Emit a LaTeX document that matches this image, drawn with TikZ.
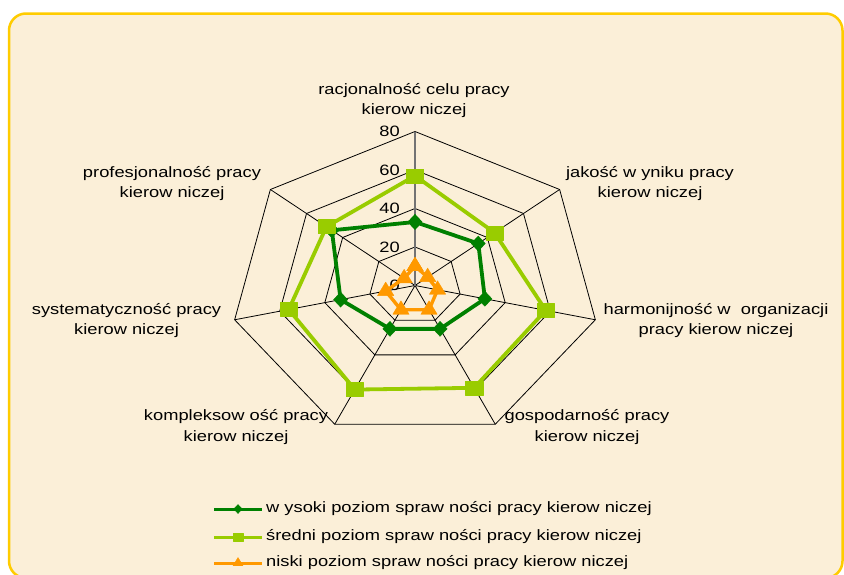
\documentclass[tikz,border=0pt]{standalone}
\usepackage{fontspec}
\setmainfont{Liberation Sans}[FakeStretch=1.22]
\usetikzlibrary{plotmarks}
\definecolor{ciemnozielony}{HTML}{008000}
\definecolor{jasnozielony}{HTML}{99CC00}
\definecolor{pomaranczowy}{HTML}{FF9900}
\definecolor{ramka}{HTML}{FFCC00}
\definecolor{tlo}{HTML}{FBEFD8}
\begin{document}
\begin{tikzpicture}[x=1pt, y=-1pt,
  siatka/.style={black, line width=0.8pt},
  os/.style={black!55, line width=1.4pt},
  opis/.style={align=center, inner sep=0pt, font=\fontsize{15}{20.5}\selectfont},
  liczba/.style={anchor=east, inner sep=0pt, xshift=-15pt, font=\fontsize{15}{18}\selectfont},
  seria/.style={line width=3.8pt, line join=round},
  wysoki/.style={seria, ciemnozielony, mark=diamond*, mark size=7.5pt, mark options={xscale=1.25, line width=0.4pt}},
  sredni/.style={seria, jasnozielony, mark=square*, mark size=7pt, mark options={xscale=1.22, line width=0.4pt}},
  niski/.style={seria, line width=3.4pt, pomaranczowy, mark=triangle*, mark size=9pt, mark options={xscale=1.05, line width=0.4pt}}]
% tlo i ramka
\fill[white] (0,0) rectangle (844,574);
\useasboundingbox (0,0) rectangle (844,574);
\draw[ramka, line width=2.5pt, fill=tlo, rounded corners=17pt] (9,13.5) rectangle (842.5,578);

% wykres radarowy (1 jednostka = wartosc 1)
\begin{scope}[shift={(415,285.5)}, x=2.3125pt, y=1.925pt]
% siatka: pierscienie co 20
\draw[siatka] (90:20)--(38.571:20)--(-12.857:20)--(-64.286:20)--(-115.714:20)--(-167.143:20)--(141.429:20)--cycle;
\draw[siatka] (90:40)--(38.571:40)--(-12.857:40)--(-64.286:40)--(-115.714:40)--(-167.143:40)--(141.429:40)--cycle;
\draw[siatka] (90:60)--(38.571:60)--(-12.857:60)--(-64.286:60)--(-115.714:60)--(-167.143:60)--(141.429:60)--cycle;
\draw[siatka] (90:80)--(38.571:80)--(-12.857:80)--(-64.286:80)--(-115.714:80)--(-167.143:80)--(141.429:80)--cycle;
% ramiona osi
\draw[siatka] (0,0)--(38.571:80) (0,0)--(-12.857:80) (0,0)--(-64.286:80)
  (0,0)--(-115.714:80) (0,0)--(-167.143:80) (0,0)--(141.429:80);
\draw[os] (0,0)--(90:80);
% wartosci na osi
\node[liczba] (t0) at (0,0) {0};
\node[liczba] (t20) at (0,20) {20};
\node[liczba] (t40) at (0,40) {40};
\node[liczba] (t60) at (0,60) {60};
\node[liczba] (t80) at (0,80) {80};

% serie danych
\draw[wysoki] plot coordinates {(90:33) (38.571:35) (-12.857:31) (-64.286:25) (-115.714:25) (-167.143:33) (141.429:46) (90:33)};
\draw[sredni] plot coordinates {(90:57) (38.571:44) (-12.857:58) (-64.286:59) (-115.714:60) (-167.143:56) (141.429:49) (90:57)};
\draw[niski] plot coordinates {(90:10) (38.571:7) (-12.857:10) (-64.286:14) (-115.714:14) (-167.143:13) (141.429:6) (90:10)};
\end{scope}

% opisy ramion
\node[opis] (racjonalnosc) at (414,100.5) {racjonalność celu pracy\\kierow niczej};
\node[opis] (jakosc) at (650,183.5) {jakość w yniku pracy\\kierow niczej};
\node[opis] (harmonijnosc) at (716,320.5) {harmonijność w\ \ organizacji\\pracy kierow niczej};
\node[opis] (gospodarnosc) at (587,427) {gospodarność pracy\\kierow niczej};
\node[opis] (kompleksowosc) at (236,427) {kompleksow ość pracy\\kierow niczej};
\node[opis] (systematycznosc) at (126.5,320.5) {systematyczność pracy\\kierow niczej};
\node[opis] (profesjonalnosc) at (172,183.5) {profesjonalność pracy\\kierow niczej};

% legenda
\draw[wysoki, line width=3pt, mark size=4.5pt, mark indices={2}] plot coordinates {(214,509) (238,509) (262,509)};
\draw[sredni, line width=3pt, mark size=4pt, mark indices={2}] plot coordinates {(214,537) (238,537) (262,537)};
\draw[niski, line width=3pt, mark size=5.5pt, mark indices={2}] plot coordinates {(214,563) (238,563) (262,563)};
\node[opis, anchor=west] (lwysoki) at (266,509) {w ysoki poziom spraw ności pracy kierow niczej};
\node[opis, anchor=west] (lsredni) at (266,537) {średni poziom spraw ności pracy kierow niczej};
\node[opis, anchor=west] (lniski) at (266,563) {niski poziom spraw ności pracy kierow niczej};
\end{tikzpicture}
\end{document}
